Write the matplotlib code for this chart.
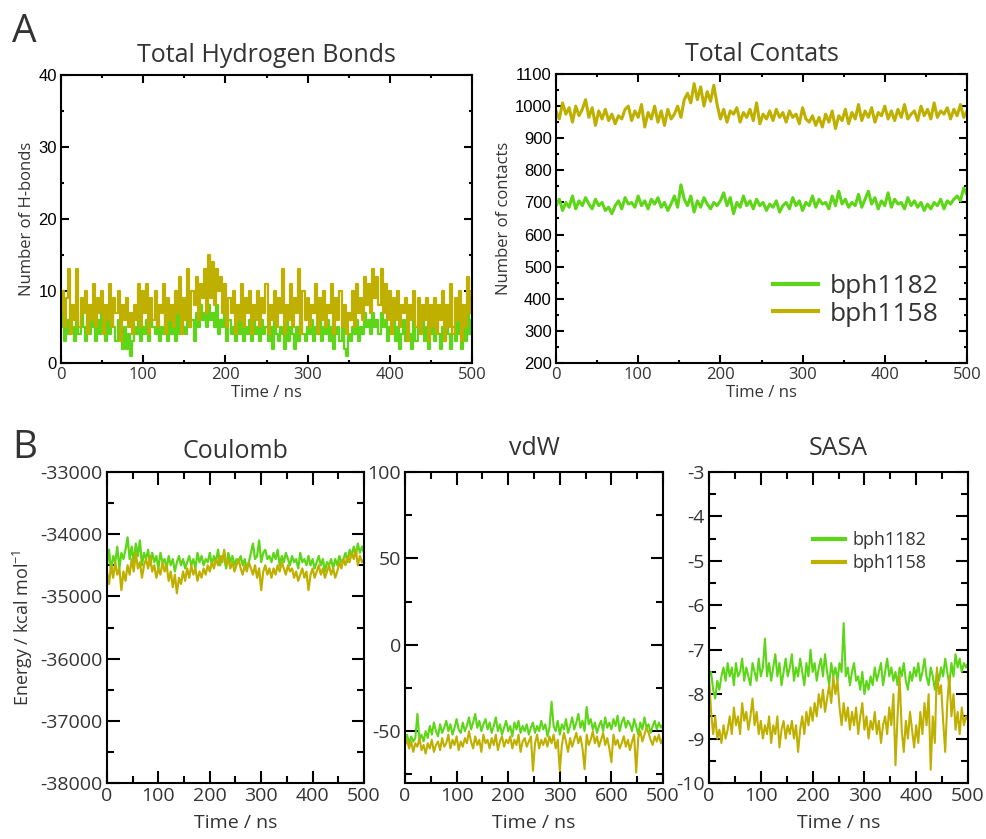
import numpy as np
import matplotlib
matplotlib.use("Agg")
import matplotlib.pyplot as plt
from matplotlib.ticker import MultipleLocator, FixedLocator, FixedFormatter

plt.rcParams['font.family'] = ['Open Sans', 'DejaVu Sans']
plt.rcParams['mathtext.default'] = 'regular'
plt.rcParams['axes.unicode_minus'] = False

GREEN = '#5cd616'
OLIVE = '#bfb000'
TXT = '#333333'
series_names = ['bph1182', 'bph1158']

# total hydrogen bonds (every 2.5 ns)
hb_1182 = [5, 7, 3, 6, 4, 8, 5, 3, 6,
           4, 7, 5, 3, 6, 4, 8, 5, 3, 6, 4, 7,
           5, 3, 6, 4, 7, 5, 3, 6, 4, 2, 5, 2, 4, 1, 3, 5, 4, 6, 3, 5,
           4, 6, 3, 7, 5, 4, 6, 3, 5, 4, 7, 3, 6, 4, 5, 3, 7, 4, 6, 5,
           4, 7, 5, 6, 3, 7, 5, 8, 6, 7, 5, 8, 6, 7, 5, 8, 4, 6, 5, 7,
           3, 6, 4, 5, 3, 7, 4, 6, 3, 5, 4, 6, 3, 7, 4, 5, 3, 6, 4, 5,
           3, 5, 2, 6, 4, 3, 5, 4, 2, 6, 3, 5, 4, 2, 5, 3, 6, 4, 3, 5,
           4, 6, 3, 5, 4, 7, 3, 5, 4, 6, 3, 5, 2, 4, 5, 3, 6, 2, 1, 4,
           3, 5, 4, 6, 3, 5, 4, 7, 5, 6, 4, 7, 5, 6, 4, 7, 5, 6, 3, 5,
           4, 6, 3, 5, 2, 4, 6, 3, 5, 4, 2, 6, 3, 5, 4, 7, 3, 5, 2, 4,
           5, 3, 6, 4, 2, 5, 3, 6, 4, 2, 5, 3, 6, 4, 2, 5, 3, 7, 4, 6]
hb_1158 = [7, 10, 5, 9, 13, 4, 8, 6, 13,
           5, 9, 7, 10, 4, 8, 6, 11, 5, 9, 7, 10,
           4, 8, 6, 11, 5, 9, 7, 10, 3, 8, 6, 9, 5, 7, 4, 8, 6, 11, 5, 10,
           7, 11, 4, 9, 6, 10, 5, 8, 7, 11, 4, 9, 6, 8, 5, 10, 7, 12, 4, 9,
           6, 13, 5, 10, 8, 12, 6, 11, 9, 13, 7, 15, 9, 14, 8, 13, 10, 12, 7, 11,
           5, 9, 7, 10, 4, 8, 6, 11, 5, 9, 7, 10, 4, 8, 6, 10, 5, 9, 7, 11,
           4, 8, 6, 10, 5, 9, 7, 13, 4, 8, 6, 11, 5, 9, 7, 13, 4, 10, 6, 9,
           5, 8, 7, 11, 4, 9, 6, 10, 5, 8, 7, 11, 4, 9, 6, 10, 5, 8, 4, 7,
           6, 10, 5, 11, 7, 9, 6, 12, 8, 11, 7, 13, 9, 12, 8, 13, 7, 11, 6, 10,
           4, 9, 6, 10, 5, 8, 7, 9, 3, 8, 6, 10, 5, 9, 4, 8, 6, 9, 3, 8,
           5, 9, 4, 8, 6, 10, 3, 8, 5, 11, 4, 9, 6, 10, 3, 8, 5, 12, 7, 10]

# total contacts (every 4 ns)
ct_1182 = [690, 710, 675, 700, 685, 720, 680, 705, 690, 715,
           695, 680, 710, 690, 700, 675, 685, 665, 690, 705,
           680, 715, 695, 700, 685, 720, 690, 705, 680, 710,
           695, 715, 685, 700, 675, 695, 720, 685, 755, 710,
           690, 720, 670, 705, 685, 715, 695, 680, 700, 690,
           705, 730, 690, 715, 665, 700, 685, 720, 690, 705,
           680, 710, 690, 700, 675, 695, 685, 705, 670, 690,
           700, 680, 715, 690, 705, 675, 700, 690, 720, 685,
           710, 695, 700, 680, 720, 690, 735, 695, 710, 685,
           700, 690, 725, 685, 710, 735, 695, 715, 680, 705,
           690, 730, 685, 710, 695, 700, 680, 715, 690, 705,
           685, 700, 675, 695, 680, 700, 690, 710, 680, 705,
           695, 710, 720, 705, 745, 725]
ct_1158 = [985, 960, 1010, 975, 995, 950, 1000, 970, 990, 1020,
           965, 995, 940, 985, 960, 990, 955, 975, 945, 970,
           960, 990, 1000, 955, 985, 965, 1005, 935, 980, 960,
           1000, 950, 985, 940, 990, 960, 975, 1000, 965, 1020,
           1040, 1010, 1070, 1020, 1060, 1000, 1045, 1015, 1065, 1005,
           960, 990, 950, 985, 975, 995, 950, 980, 965, 990,
           955, 1010, 945, 975, 960, 985, 955, 990, 965, 980,
           950, 985, 965, 975, 945, 995, 960, 950, 970, 940,
           965, 935, 975, 950, 985, 930, 970, 955, 990, 945,
           980, 960, 1005, 955, 985, 965, 995, 950, 980, 970,
           1000, 960, 985, 955, 990, 965, 1005, 960, 975, 985,
           955, 1000, 970, 990, 960, 1010, 965, 985, 975, 995,
           960, 990, 970, 1005, 965, 985]

# coulomb energy
co_1182 = [-34500, -34250, -34600, -34350, -34450, -34200, -34550, -34300, -34400, -34250,
           -34050, -34400, -34200, -34450, -34150, -34350, -34100, -34500, -34300, -34400,
           -34250, -34500, -34300, -34450, -34350, -34550, -34300, -34450, -34400, -34550,
           -34350, -34500, -34400, -34600, -34450, -34350, -34500, -34400, -34550, -34450,
           -34350, -34500, -34400, -34550, -34300, -34450, -34350, -34500, -34400, -34450,
           -34300, -34500, -34350, -34450, -34250, -34500, -34350, -34400, -34550, -34300,
           -34450, -34350, -34500, -34400, -34450, -34350, -34500, -34400, -34550, -34450,
           -34300, -34150, -34400, -34350, -34100, -34450, -34300, -34250, -34400, -34350,
           -34450, -34300, -34400, -34250, -34500, -34350, -34450, -34300, -34400, -34500,
           -34350, -34450, -34400, -34550, -34300, -34450, -34400, -34500, -34350, -34500,
           -34400, -34550, -34450, -34350, -34500, -34400, -34600, -34450, -34500, -34400,
           -34550, -34400, -34500, -34350, -34450, -34400, -34300, -34450, -34250, -34350,
           -34200, -34350, -34150, -34300, -34200, -34300]
co_1158 = [-34600, -34800, -34500, -34700, -34450, -34650, -34550, -34900, -34600, -34750,
           -34500, -34650, -34400, -34600, -34300, -34550, -34450, -34700, -34500, -34400,
           -34550, -34350, -34600, -34500, -34700, -34550, -34650, -34450, -34600, -34500,
           -34750, -34600, -34850, -34650, -34950, -34700, -34800, -34600, -34750, -34550,
           -34700, -34500, -34650, -34550, -34750, -34600, -34700, -34550, -34650, -34500,
           -34600, -34450, -34550, -34400, -34500, -34350, -34450, -34250, -34500, -34400,
           -34550, -34450, -34600, -34500, -34400, -34550, -34650, -34500, -34600, -34450,
           -34550, -34650, -34500, -34700, -34550, -34900, -34600, -34500, -34650, -34550,
           -34700, -34550, -34650, -34500, -34600, -34450, -34550, -34650, -34500, -34600,
           -34550, -34700, -34600, -34750, -34650, -34550, -34700, -34600, -34900, -34650,
           -34550, -34700, -34600, -34500, -34650, -34550, -34700, -34600, -34500, -34650,
           -34550, -34700, -34600, -34450, -34550, -34400, -34500, -34350, -34450, -34300,
           -34400, -34250, -34500, -34350, -34450, -34400]

# van der Waals energy
vd_1182 = [-55, -52, -57, -53, -56, -54, -40, -55, -52, -56,
           -50, -54, -47, -52, -45, -50, -53, -46, -51, -48,
           -44, -50, -46, -52, -48, -43, -49, -51, -45, -50,
           -47, -42, -49, -45, -40, -48, -44, -50, -46, -43,
           -49, -45, -51, -47, -42, -50, -46, -52, -48, -44,
           -50, -47, -53, -45, -49, -44, -51, -47, -50, -46,
           -52, -48, -45, -51, -47, -50, -44, -49, -46, -53,
           -48, -33, -47, -50, -44, -52, -46, -49, -43, -51,
           -47, -42, -49, -45, -40, -48, -44, -50, -36, -46,
           -43, -49, -45, -51, -47, -44, -50, -42, -48, -45,
           -49, -43, -47, -41, -50, -45, -42, -48, -44, -46,
           -50, -43, -47, -52, -45, -49, -42, -48, -46, -51,
           -47, -44, -49, -45, -48, -46]
vd_1158 = [-58, -55, -60, -56, -62, -57, -59, -54, -61, -58,
           -63, -57, -60, -55, -62, -58, -56, -61, -54, -59,
           -57, -52, -60, -55, -58, -53, -61, -56, -59, -54,
           -57, -50, -56, -60, -53, -58, -55, -62, -52, -57,
           -55, -60, -54, -58, -52, -61, -56, -53, -59, -55,
           -57, -53, -60, -55, -58, -52, -62, -56, -54, -59,
           -56, -53, -73, -57, -52, -60, -55, -58, -54, -59,
           -53, -57, -52, -60, -55, -73, -58, -51, -56, -62,
           -54, -59, -55, -51, -57, -53, -60, -72, -52, -58,
           -55, -50, -57, -53, -59, -55, -51, -58, -54, -60,
           -68, -52, -58, -55, -60, -57, -53, -59, -55, -61,
           -56, -52, -74, -54, -50, -56, -52, -48, -51, -55,
           -58, -53, -56, -52, -57, -54]

# SASA energy
sa_1182 = [-7.6, -7.5, -7.9, -8.1, -7.7, -7.9, -7.6, -7.4, -7.7, -7.3,
           -7.6, -7.4, -7.8, -7.3, -7.6, -7.5, -7.2, -7.7, -7.4, -7.6,
           -7.8, -7.3, -7.5, -7.7, -7.2, -7.6, -7.4, -6.75, -7.6, -7.3,
           -7.7, -7.4, -7.1, -7.6, -7.3, -7.8, -7.5, -7.2, -7.6, -7.4,
           -7.1, -7.7, -7.4, -7.6, -7.2, -7.5, -7.8, -7.3, -7.6, -7.0,
           -7.5, -7.3, -7.7, -7.4, -7.2, -7.6, -7.1, -7.5, -7.8, -7.3,
           -7.6, -7.4, -7.7, -7.3, -7.5, -6.4, -7.6, -7.4, -7.8, -7.5,
           -7.3, -7.7, -7.6, -7.9, -7.5, -8.0, -7.7, -7.9, -7.6, -7.8,
           -7.4, -7.7, -7.5, -7.3, -7.8, -7.5, -7.2, -7.6, -7.4, -7.7,
           -7.5, -7.8, -7.4, -7.6, -7.3, -7.7, -7.9, -7.5, -7.7, -7.4,
           -7.6, -7.3, -7.7, -7.5, -7.2, -7.6, -7.8, -7.4, -7.6, -7.9,
           -7.5, -7.7, -7.4, -7.6, -7.2, -7.5, -7.8, -7.3, -7.6, -7.1,
           -7.4, -7.2, -7.5, -7.3, -7.4, -7.3]
sa_1158 = [-7.6, -8.4, -8.9, -8.5, -9.0, -8.8, -9.1, -8.7, -9.0, -8.8,
           -8.5, -8.9, -8.3, -8.7, -8.5, -8.9, -8.2, -8.6, -8.4, -8.8,
           -8.5, -8.1, -8.7, -8.4, -8.9, -8.6, -9.0, -8.7, -8.9, -8.5,
           -9.1, -8.7, -8.9, -8.5, -9.2, -8.8, -8.6, -9.0, -8.7, -8.9,
           -8.6, -9.0, -8.7, -9.3, -8.8, -8.5, -8.9, -8.4, -8.7, -8.3,
           -8.6, -8.2, -8.5, -8.0, -8.3, -7.9, -8.4, -8.1, -7.8, -8.2,
           -7.6, -8.0, -7.7, -8.3, -8.7, -8.2, -8.6, -8.3, -8.8, -8.4,
           -8.7, -8.3, -8.9, -8.5, -8.2, -8.8, -8.5, -9.0, -8.6, -8.8,
           -8.4, -8.9, -8.6, -9.1, -8.7, -8.5, -8.9, -8.3, -8.7, -8.0,
           -9.6, -8.5, -7.6, -8.8, -9.3, -8.6, -9.0, -8.4, -8.8, -9.2,
           -8.7, -9.1, -8.4, -8.9, -8.2, -8.7, -8.0, -9.7, -8.5, -9.1,
           -7.4, -8.0, -7.8, -8.6, -9.3, -8.2, -7.6, -8.5, -8.0, -8.8,
           -8.4, -8.9, -8.3, -8.7, -8.5, -8.6]

vdw_xtick_labels = ['0', '100', '200', '300', '600', '500']

W, H = 986, 839
fig = plt.figure(figsize=(W / 100, H / 100), dpi=100)


def box(l, t, r, b):
    return [l / W, 1 - b / H, (r - l) / W, (b - t) / H]


def style(ax, major_len, minor_len, size, yfont):
    for s in ax.spines.values():
        s.set_linewidth(1.5)
    ax.tick_params(which='both', direction='in', top=True, right=True, width=1.5)
    ax.tick_params(which='major', length=major_len, labelsize=size, pad=3)
    ax.tick_params(which='minor', length=minor_len)
    ax.tick_params(axis='y', labelfontfamily=yfont, labelcolor='black' if yfont != 'Open Sans' else TXT)
    ax.tick_params(axis='x', labelcolor=TXT)
    ax.set_xlim(0, 500)
    ax.xaxis.set_major_locator(MultipleLocator(100))
    ax.xaxis.set_minor_locator(MultipleLocator(50))


def draw(ax, y1182, y1158, lw, ds='default'):
    ax.plot(np.linspace(0, 500, len(y1182)), y1182, color=GREEN, lw=lw, ds=ds, label=series_names[0])
    ax.plot(np.linspace(0, 500, len(y1158)), y1158, color=OLIVE, lw=lw, ds=ds, label=series_names[1])


# ---- panel A ----
ax1 = fig.add_axes(box(61, 75, 472, 363))
draw(ax1, hb_1182, hb_1158, 1.6, ds='steps-mid')
style(ax1, 6, 2.5, 12, 'Liberation Sans')
ax1.set_ylim(0, 40)
ax1.yaxis.set_major_locator(MultipleLocator(10))
ax1.yaxis.set_minor_locator(MultipleLocator(5))
ax1.set_ylabel('Number of H-bonds', fontsize=12, color=TXT, labelpad=2)
ax1.set_xlabel('Time / ns', fontsize=12, color=TXT, labelpad=1)
ax1.set_title('Total Hydrogen Bonds', fontsize=18, color=TXT, pad=9)

ax2 = fig.add_axes(box(556, 74, 967, 363))
draw(ax2, ct_1182, ct_1158, 2.2)
style(ax2, 6, 2.5, 12, 'Liberation Sans')
ax2.set_ylim(200, 1100)
ax2.yaxis.set_major_locator(MultipleLocator(100))
ax2.yaxis.set_minor_locator(MultipleLocator(50))
ax2.set_ylabel('Number of contacts', fontsize=12, color=TXT, labelpad=2)
ax2.set_xlabel('Time / ns', fontsize=12, color=TXT, labelpad=1)
ax2.set_title('Total Contats', fontsize=18, color=TXT, pad=9)
leg = ax2.legend(loc='upper left', bbox_to_anchor=(773 / W, 1 - 274 / H),
                 bbox_transform=fig.transFigure, frameon=False, fontsize=19,
                 handlelength=1.7, handletextpad=0.45, labelspacing=0.1,
                 borderpad=0, borderaxespad=0)
for h in leg.get_lines():
    h.set_linewidth(3)
for t in leg.get_texts():
    t.set_color(TXT)

# ---- panel B ----
ax3 = fig.add_axes(box(107, 472, 364, 783))
draw(ax3, co_1182, co_1158, 1.6)
style(ax3, 9, 5, 14, 'Open Sans')
ax3.set_ylim(-38000, -33000)
ax3.yaxis.set_major_locator(MultipleLocator(1000))
ax3.yaxis.set_minor_locator(MultipleLocator(500))
ax3.set_ylabel('Energy / kcal mol$^{-1}$', fontsize=13, color=TXT, labelpad=4)
ax3.set_xlabel('Time / ns', fontsize=14, color=TXT, labelpad=6)
ax3.set_title('Coulomb', fontsize=18, color=TXT, pad=10)

ax4 = fig.add_axes(box(405, 472, 663, 783))
draw(ax4, vd_1182, vd_1158, 1.5)
style(ax4, 9, 5, 14, 'Open Sans')
ax4.set_ylim(-80, 100)
ax4.yaxis.set_major_locator(MultipleLocator(50))
ax4.yaxis.set_minor_locator(FixedLocator([75, 25, -25, -75]))
ax4.xaxis.set_major_locator(FixedLocator([0, 100, 200, 300, 400, 500]))
ax4.xaxis.set_major_formatter(FixedFormatter(vdw_xtick_labels))
ax4.set_xlabel('Time / ns', fontsize=14, color=TXT, labelpad=6)
ax4.set_title('vdW', fontsize=18, color=TXT, pad=12)

ax5 = fig.add_axes(box(709, 472, 968, 783))
draw(ax5, sa_1182, sa_1158, 1.5)
style(ax5, 9, 5, 14, 'Open Sans')
ax5.set_ylim(-10, -3)
ax5.yaxis.set_major_locator(MultipleLocator(1))
ax5.yaxis.set_minor_locator(MultipleLocator(0.5))
ax5.set_xlabel('Time / ns', fontsize=14, color=TXT, labelpad=6)
ax5.set_title('SASA', fontsize=18, color=TXT, pad=12)
leg2 = ax5.legend(loc='upper left', bbox_to_anchor=(813 / W, 1 - 531 / H),
                  bbox_transform=fig.transFigure, frameon=False, fontsize=13,
                  handlelength=1.75, handletextpad=0.45, labelspacing=0.3,
                  borderpad=0, borderaxespad=0)
for h in leg2.get_lines():
    h.set_linewidth(3)
for t in leg2.get_texts():
    t.set_color(TXT)

fig.text(12 / W, 1 - 42 / H, 'A', fontsize=28, color=TXT, va='baseline')
fig.text(12 / W, 1 - 458 / H, 'B', fontsize=28, color=TXT, va='baseline')

fig.savefig('out.png', dpi=100)
